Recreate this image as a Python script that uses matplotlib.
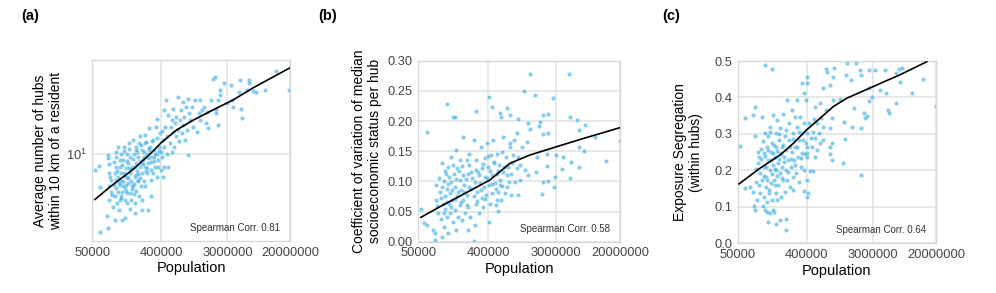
import numpy as np
import matplotlib
matplotlib.use("Agg")
import matplotlib.pyplot as plt
from matplotlib.ticker import NullLocator, FixedLocator

plt.rcParams["font.family"] = ["Liberation Sans", "DejaVu Sans"]

# ── data (population in thousands) ─────────────────────────────────────────
# (a) average number of hubs within 10 km of a resident
pop_a_k = [54, 62, 63, 64, 78, 80, 80, 80, 82, 84,
           84, 84, 88, 94, 99, 99, 102, 104, 104, 106,
           109, 109, 113, 116, 116, 118, 121, 121, 124, 127,
           127, 129, 134, 134, 138, 141, 141, 143, 147, 147,
           151, 156, 156, 158, 162, 162, 168, 173, 173, 177,
           181, 181, 187, 190, 190, 193, 199, 199, 205, 212,
           212, 216, 222, 222, 228, 233, 237, 243, 243, 250,
           260, 260, 272, 272, 280, 285, 292, 300, 300, 318,
           325, 334, 342, 352, 358, 368, 378, 385, 395, 410,
           425, 435, 435, 445, 455, 465, 476, 487, 500, 500,
           530, 540, 556, 556, 570, 583, 595, 610, 625, 640,
           675, 675, 700, 715, 730, 750, 770, 790, 805, 830,
           855, 876, 920, 920, 950, 970, 1020, 1070, 1130, 1200,
           1260, 1290, 1310, 1380, 1470, 1550, 1600, 1690, 1800, 1960,
           2040, 2100, 2150, 2230, 2230, 2400, 2400, 2700, 2950, 3300,
           3450, 3580, 4300, 4390, 4490, 4600, 5400, 5700, 5800, 6600,
           7100, 9400, 13200, 19500,
           88, 96, 99, 104, 109, 116, 119, 124, 129, 136,
           138, 145, 150, 158, 165, 178, 183, 190, 195, 202,
           218, 225, 237, 248, 265, 276, 292, 310, 328, 352,
           368, 400, 425,
           86, 92, 97, 101, 106, 111, 114, 118, 123, 126,
           131, 135, 140, 144, 149, 153, 160, 167, 171, 175,
           184, 188, 197, 203, 209, 215, 220, 230, 240, 252,
           258, 268, 282, 296, 305, 320, 338, 360, 380, 415]
hubs_a = [7.8, 8.3, 5.9, 2.9, 3.7, 3.1, 9.9, 9.5, 8.6, 4.8,
          7.4, 6.0, 6.6, 4.3, 3.5, 5.1, 8.2, 6.6, 9.6, 4.6,
          5.5, 11.3, 4.1, 6.1, 8.2, 10.1, 5.1, 7.4, 3.5, 6.5,
          9.1, 11.3, 4.8, 5.8, 8.0, 7.0, 10.1, 4.6, 6.3, 8.7,
          11.9, 5.4, 7.4, 9.6, 6.5, 4.8, 8.2, 12.6, 6.0, 10.1,
          7.0, 4.6, 8.7, 5.6, 11.3, 7.6, 6.6, 9.6, 5.1, 13.3,
          8.2, 6.0, 10.7, 4.1, 7.4, 9.1, 6.5, 11.9, 8.2, 13.6,
          10.1, 7.4, 4.1, 8.7, 15.2, 11.3, 7.8, 9.6, 6.6, 12.6,
          10.7, 8.2, 15.6, 7.0, 17.7, 9.1, 11.3, 14.0, 7.8, 9.6,
          12.6, 20.3, 11.3, 8.2, 15.6, 23.8, 10.1, 13.3, 18.8, 8.2,
          11.9, 15.6, 17.3, 10.4, 14.3, 20.8, 11.3, 16.5, 13.3, 18.3,
          25.1, 14.8, 12.3, 17.3, 20.3, 14.0, 23.2, 16.0, 18.3, 12.6,
          21.4, 14.8, 9.9, 24.4, 19.3, 17.3, 21.4, 15.6, 23.8, 14.3,
          19.3, 23.8, 17.3, 20.3, 21.4, 16.5, 19.8, 15.2, 23.8, 33.5,
          34.6, 20.3, 19.3, 23.8, 16.0, 26.0, 28.0, 31.2, 22.6, 30.3,
          23.8, 21.4, 27.2, 32.8, 20.8, 17.9, 27.8, 32.8, 31.2, 27.5,
          27.2, 27.8, 37.8, 27.8,
          5.5, 6.1, 7.4, 10.4, 7.0, 4.8, 6.5, 5.5, 7.4, 3.6,
          6.1, 5.4, 8.0, 4.2, 6.0, 5.3, 3.9, 7.2, 10.4, 6.5,
          8.7, 4.8, 9.6, 6.0, 8.0, 10.7, 5.1, 7.4, 9.6, 10.1,
          8.2, 10.4, 7.0,
          7.0, 5.2, 8.8, 5.8, 7.7, 6.3, 9.2, 5.0, 8.4, 6.0,
          10.6, 7.1, 5.6, 9.0, 6.8, 10.9, 7.9, 5.7, 9.3, 6.2,
          8.1, 10.8, 7.3, 12.0, 9.0, 6.9, 11.6, 8.5, 10.4, 7.6,
          12.2, 9.4, 11.0, 8.9, 12.3, 9.0, 10.0, 12.9, 10.6, 14.5]
fit_a_pop_k = [54, 86, 173, 288, 400, 646, 1070, 1960, 3580, 6560, 20000]
fit_a = [4.85, 5.96, 7.88, 10.05, 12.0, 14.8, 17.3, 20.4, 23.9, 29.0, 39.9]

# (b) coefficient of variation of median socioeconomic status per hub
pop_b_k = [64, 116, 141, 150, 280, 411, 440, 1360, 1150, 1580,
           2700, 4350, 4550, 5600, 7100, 2060, 2380, 1850, 1310, 960,
           690, 762, 565, 590, 930, 1380, 1800, 2010, 2380, 6000,
           9600, 19700, 1270, 870, 625, 762, 1080, 5850, 6770, 3730,
           3000, 2300, 1690, 970, 845, 13300, 4700, 6000, 3550, 4550,
           2300, 1650, 2900, 2380, 2060, 2800, 1950, 1290, 1040, 970,
           790, 690, 560, 512, 530, 411, 265,
           54, 60, 64, 78, 81, 83, 85, 85, 89, 95,
           97, 100, 100, 103, 106, 108, 111, 111, 114, 116,
           118, 121, 121, 124, 127, 129, 133, 133, 136, 141,
           143, 147, 150, 152, 154, 157, 160, 162, 173, 173,
           175, 178, 183, 187, 187, 190, 195, 199, 211, 214,
           218, 218, 222, 226, 228, 231, 237, 258, 262, 266,
           270, 280, 280, 285, 292, 300, 313, 318, 328, 335,
           342, 350, 358, 365, 375, 380, 400, 411, 420, 430,
           440, 452, 460, 470, 490, 500, 512, 520, 530, 545,
           570, 590, 605, 625, 655, 680, 710, 735, 762, 790,
           815, 885, 930, 1040, 1190,
           87, 93, 98, 102, 107, 112, 117, 122, 126, 131,
           137, 142, 148, 155, 163, 168, 180, 185, 193, 205,
           210, 225, 240, 250, 275, 290, 305, 322, 345, 362,
           385, 395, 425, 445, 478, 505, 540, 600, 640, 700]
cv_b = [0.181, 0.228, 0.207, 0.207, 0.217, 0.239, 0.224, 0.278, 0.250, 0.243,
        0.238, 0.278, 0.207, 0.202, 0.193, 0.210, 0.211, 0.198, 0.197, 0.203,
        0.221, 0.210, 0.213, 0.206, 0.180, 0.187, 0.191, 0.178, 0.180, 0.185,
        0.174, 0.167, 0.166, 0.169, 0.174, 0.157, 0.157, 0.157, 0.151, 0.141,
        0.144, 0.146, 0.141, 0.141, 0.144, 0.134, 0.132, 0.124, 0.120, 0.105,
        0.126, 0.116, 0.107, 0.101, 0.099, 0.091, 0.079, 0.110, 0.102, 0.078,
        0.078, 0.091, 0.094, 0.069, 0.051, 0.033, 0.002,
        0.054, 0.031, 0.028, 0.019, 0.014, 0.003, 0.069, 0.094, 0.047, 0.083,
        0.038, 0.008, 0.130, 0.063, 0.101, 0.025, 0.075, 0.055, 0.113, 0.041,
        0.088, 0.014, 0.124, 0.063, 0.080, 0.047, 0.099, 0.141, 0.069, 0.033,
        0.113, 0.052, 0.091, 0.152, 0.019, 0.075, 0.122, 0.041, 0.102, 0.061,
        0.135, 0.086, 0.036, 0.174, 0.110, 0.069, 0.094, 0.047, 0.135, 0.077,
        0.019, 0.113, 0.058, 0.091, 0.146, 0.041, 0.116, 0.075, 0.168, 0.099,
        0.028, 0.063, 0.135, 0.083, 0.116, 0.047, 0.097, 0.157, 0.072, 0.122,
        0.058, 0.091, 0.138, 0.108, 0.077, 0.163, 0.124, 0.094, 0.063, 0.144,
        0.110, 0.080, 0.168, 0.130, 0.097, 0.061, 0.146, 0.113, 0.083, 0.127,
        0.102, 0.069, 0.149, 0.116, 0.080, 0.141, 0.124, 0.099, 0.163, 0.113,
        0.130, 0.099, 0.122, 0.127, 0.119,
        0.060, 0.105, 0.072, 0.090, 0.048, 0.118, 0.066, 0.095, 0.108, 0.058,
        0.086, 0.127, 0.071, 0.104, 0.083, 0.118, 0.066, 0.125, 0.082, 0.104,
        0.061, 0.127, 0.088, 0.106, 0.119, 0.068, 0.110, 0.086, 0.128, 0.070,
        0.105, 0.142, 0.118, 0.095, 0.132, 0.088, 0.118, 0.093, 0.123, 0.110]
fit_b_pop_k = [54, 95, 190, 420, 762, 1380, 3050, 6700, 20000]
fit_b = [0.0404, 0.058, 0.0786, 0.1023, 0.130, 0.1437, 0.1575, 0.171, 0.189]

# (c) exposure segregation within hubs
pop_c_k = [53, 62, 62, 84, 80, 115, 140, 213, 125, 160,
           179, 213, 400, 410, 345, 715, 735, 930, 1340, 1790,
           2010, 2100, 2650, 3200, 4280, 6000, 6600, 7150, 6740, 13400,
           9700, 5900, 4650, 4850, 2600, 2300, 2350, 1600, 2070, 2050,
           1700, 1250, 1290, 1200, 20000, 2650, 1530, 1310, 1090, 895,
           895, 820, 850, 800, 850, 800, 820, 850, 660, 600,
           520, 720, 615, 545, 660, 590, 510, 600, 545, 660,
           480, 465, 520, 410, 400, 410, 410, 415, 410, 375,
           450, 480, 3650, 4400, 2900, 2500, 133, 150,
           72, 80, 82, 84, 84, 88, 90, 93, 96, 98,
           98, 100, 104, 104, 107, 109, 109, 111, 114, 115,
           116, 118, 120, 120, 122, 126, 126, 128, 133, 133,
           135, 138, 140, 142, 145, 145, 147, 150, 154, 157,
           158, 160, 160, 162, 164, 167, 170, 173, 179, 179,
           182, 185, 188, 191, 195, 195, 200, 209, 211, 213,
           218, 222, 224, 228, 233, 235, 244, 248, 255, 257,
           262, 268, 268, 272, 284, 286, 292, 296, 302, 310,
           315, 322, 329, 335, 345, 352, 365, 370, 375, 390,
           393, 400,
           86, 92, 95, 101, 106, 110, 113, 117, 121, 124,
           129, 131, 136, 139, 143, 148, 152, 156, 163, 166,
           172, 176, 184, 190, 198, 203, 215, 226, 240, 252,
           265, 280, 300, 318, 340, 355, 380, 430, 455, 500]
seg_c = [0.267, 0.151, 0.345, 0.375, 0.352, 0.489, 0.478, 0.066, 0.059, 0.053,
         0.064, 0.037, 0.441, 0.455, 0.439, 0.477, 0.471, 0.480, 0.495, 0.495,
         0.475, 0.462, 0.475, 0.475, 0.475, 0.466, 0.477, 0.480, 0.443, 0.451,
         0.411, 0.386, 0.366, 0.358, 0.389, 0.358, 0.345, 0.320, 0.316, 0.187,
         0.370, 0.334, 0.285, 0.221, 0.377, 0.425, 0.448, 0.462, 0.395, 0.393,
         0.457, 0.434, 0.343, 0.315, 0.274, 0.265, 0.245, 0.229, 0.425, 0.384,
         0.375, 0.366, 0.343, 0.329, 0.320, 0.302, 0.288, 0.274, 0.256, 0.283,
         0.306, 0.265, 0.238, 0.238, 0.265, 0.247, 0.174, 0.137, 0.128, 0.144,
         0.197, 0.197, 0.421, 0.411, 0.400, 0.350, 0.082, 0.085,
         0.155, 0.142, 0.101, 0.091, 0.293, 0.169, 0.119, 0.219, 0.238, 0.192,
         0.137, 0.260, 0.174, 0.347, 0.101, 0.210, 0.128, 0.247, 0.091, 0.302,
         0.155, 0.183, 0.265, 0.114, 0.087, 0.229, 0.293, 0.137, 0.201, 0.320,
         0.165, 0.251, 0.119, 0.274, 0.215, 0.091, 0.352, 0.174, 0.238, 0.302,
         0.137, 0.201, 0.265, 0.119, 0.338, 0.219, 0.160, 0.283, 0.192, 0.247,
         0.315, 0.128, 0.210, 0.265, 0.174, 0.356, 0.238, 0.293, 0.142, 0.201,
         0.256, 0.393, 0.174, 0.229, 0.329, 0.283, 0.155, 0.210, 0.366, 0.251,
         0.183, 0.302, 0.146, 0.229, 0.347, 0.265, 0.192, 0.393, 0.320, 0.238,
         0.283, 0.169, 0.347, 0.210, 0.302, 0.247, 0.411, 0.201, 0.329, 0.274,
         0.393, 0.302,
         0.205, 0.250, 0.160, 0.230, 0.280, 0.185, 0.240, 0.210, 0.175, 0.255,
         0.145, 0.305, 0.228, 0.190, 0.248, 0.270, 0.205, 0.160, 0.252, 0.185,
         0.230, 0.300, 0.245, 0.180, 0.270, 0.222, 0.310, 0.195, 0.265, 0.230,
         0.285, 0.215, 0.265, 0.305, 0.235, 0.282, 0.245, 0.330, 0.290, 0.340]
fit_c_pop_k = [52, 98, 179, 268, 400, 601, 897, 1350, 3000, 6700, 15100]
fit_c = [0.163, 0.206, 0.242, 0.274, 0.311, 0.343, 0.375, 0.398, 0.43, 0.462, 0.498]

x_ticks = [50000, 400000, 3000000, 20000000]
corr_vals = [0.81, 0.58, 0.64]

PT_COLOR = "#32aae6"
GRID = "#dde4e4"
SPINE = "#d2d9d9"

fig = plt.figure(figsize=(9.96, 2.93), dpi=100)
ax_a = fig.add_axes([0.0927, 0.1775, 0.1985, 0.6177])
ax_b = fig.add_axes([0.4200, 0.1750, 0.2025, 0.6180])
ax_c = fig.add_axes([0.7407, 0.1696, 0.1991, 0.6222])

panels = [
    (ax_a, pop_a_k, hubs_a, fit_a_pop_k, fit_a,
     "Average number of hubs\nwithin 10 km of a resident", "(a)", 0.021, 2),
    (ax_b, pop_b_k, cv_b, fit_b_pop_k, fit_b,
     "Coefficient of variation of median\nsocioeconomic status per hub", "(b)", 0.320, 4),
    (ax_c, pop_c_k, seg_c, fit_c_pop_k, fit_c,
     "Exposure Segregation\n(within hubs)", "(c)", 0.665, 8),
]

for i, (ax, px, py, fx, fy, ylab, tag, tx, lpad) in enumerate(panels):
    ax.scatter(np.array(px) * 1000, py, s=10, color=PT_COLOR, alpha=0.6,
               edgecolors="white", linewidths=0.3, zorder=2)
    ax.plot(np.array(fx) * 1000, fy, color="black", linewidth=1.2, zorder=3)
    ax.set_xscale("log")
    ax.set_xlim(5e4, 2e7)
    ax.xaxis.set_major_locator(FixedLocator(x_ticks))
    ax.xaxis.set_minor_locator(NullLocator())
    ax.set_xticklabels([str(t) for t in x_ticks])
    ax.set_xlabel("Population", fontsize=10.5, labelpad=2)
    ax.set_ylabel(ylab, fontsize=10, labelpad=lpad)
    ax.grid(True, color=GRID, linewidth=1.1, zorder=0)
    ax.set_axisbelow(True)
    for s in ax.spines.values():
        s.set_color(SPINE)
        s.set_linewidth(1.0)
    ax.tick_params(length=0, pad=4, labelsize=9.3, labelcolor="#444444")
    ax.text(0.95, 0.072, f"Spearman Corr. {corr_vals[i]:.2f}",
            transform=ax.transAxes, ha="right", va="center",
            fontsize=7, color="#333333")
    fig.text(tx, 0.945, tag, fontsize=10.5, fontweight="bold",
             ha="left", va="center")

ax_a.set_yscale("log")
ax_a.set_ylim(2.5, 45.2)
ax_a.yaxis.set_major_locator(FixedLocator([10]))
ax_a.yaxis.set_minor_locator(NullLocator())

ax_b.set_ylim(0, 0.30)
ax_b.set_yticks(np.arange(0, 0.301, 0.05))
ax_b.set_yticklabels([f"{v:.2f}" for v in np.arange(0, 0.301, 0.05)])

ax_c.set_ylim(0, 0.5)
ax_c.set_yticks(np.arange(0, 0.501, 0.1))
ax_c.set_yticklabels([f"{v:.1f}" for v in np.arange(0, 0.501, 0.1)])

fig.savefig("out.png", dpi=100)
